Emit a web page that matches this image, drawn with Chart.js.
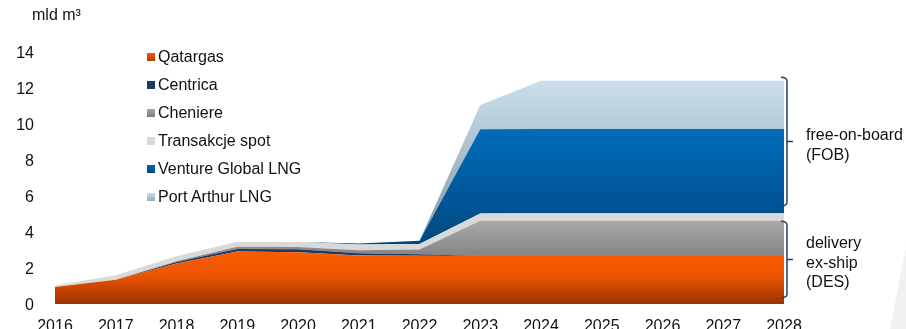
<!DOCTYPE html>
<html>
<head>
<meta charset="utf-8">
<script src="https://cdn.jsdelivr.net/npm/chart.js@4"></script>
<style>
  body { margin: 0; background: #fff; }
  #wrap { position: relative; width: 906px; height: 329px; overflow: hidden; font-family: "Liberation Sans", Arial, sans-serif; color: #111; }
  #chart { position: absolute; left: 0; top: 0; }
  .txt { position: absolute; font-size: 16px; line-height: 20px; white-space: nowrap; }
  #legend { position: absolute; left: 147px; top: 43px; font-size: 16px; line-height: 28px; }
  #legend div { position: relative; padding-left: 11px; white-space: nowrap; }
  #legend span { position: absolute; left: 0; top: 10px; width: 8px; height: 8px; }
  #deco { position: absolute; left: 890px; top: 246px; width: 16px; height: 83px; background: #f1f1f1; clip-path: polygon(100% 0, 100% 100%, 0 100%); }
</style>
</head>
<body>
<div id="wrap">
  <canvas id="chart" width="906" height="329"></canvas>
  <div class="txt" style="left:32px; top:5px;">mld m³</div>
  <div id="legend"></div>
  <div class="txt" style="left:806px; top:125px;">free-on-board<br>(FOB)</div>
  <div class="txt" style="left:806px; top:233px; line-height:19.5px;">delivery<br>ex-ship<br>(DES)</div>
  <div id="deco"></div>
</div>
<script>
var years = ["2016", "2017", "2018", "2019", "2020", "2021", "2022", "2023", "2024", "2025", "2026", "2027", "2028"];
var yTicks = [0, 2, 4, 6, 8, 10, 12, 14];

var qatargas = [0.95, 1.35, 2.25, 2.92, 2.88, 2.7, 2.68, 2.67, 2.67, 2.67, 2.67, 2.67, 2.67];
var centrica = [0, 0, 0.08, 0.14, 0.16, 0.12, 0.08, 0, 0, 0, 0, 0, 0];
var cheniere = [0, 0, 0.05, 0.12, 0.12, 0.16, 0.27, 1.95, 1.96, 1.96, 1.96, 1.96, 1.96];
var spot = [0.08, 0.25, 0.27, 0.28, 0.28, 0.32, 0.3, 0.41, 0.41, 0.41, 0.41, 0.41, 0.41];
var ventureGlobal = [0, 0, 0, 0, 0, 0.06, 0.19, 4.68, 4.68, 4.68, 4.68, 4.68, 4.68];
var portArthur = [0, 0, 0, 0, 0, 0, 0, 1.35, 2.68, 2.68, 2.68, 2.68, 2.68];

var seriesNames = ["Qatargas", "Centrica", "Cheniere", "Transakcje spot", "Venture Global LNG", "Port Arthur LNG"];

// vertical gradients: [top value, bottom value, colour stops]
var fills = [
  { top: 2.95, bottom: 0, stops: [[0, "#fa5c00"], [0.45, "#ee5500"], [1, "#9c3200"]], css: "linear-gradient(#f55a00, #b53a00)" },
  { solid: "#1f3864", css: "#1f3864" },
  { top: 4.63, bottom: 2.67, stops: [[0, "#a9a9a9"], [1, "#858585"]], css: "linear-gradient(#a6a6a6, #7a7a7a)" },
  { solid: "#d9d9d9", css: "#d9d9d9" },
  { top: 9.72, bottom: 3.3, stops: [[0, "#006cb9"], [1, "#00487f"]], css: "linear-gradient(#006ab6, #00487f)" },
  { top: 12.4, bottom: 3.5, stops: [[0, "#cadfed"], [1, "#8797a3"]], css: "linear-gradient(#c6dbe9, #98aab7)" }
];

// brackets on the right, in axis values
var brackets = [
  { from: 12.6, to: 5.45 },
  { from: 4.6, to: 0.35 }
];

function makeFill(i) {
  var f = fills[i];
  if (f.solid) return f.solid;
  return function (context) {
    var chart = context.chart;
    if (!chart.chartArea) return f.stops[0][1];
    var y = chart.scales.y;
    var g = chart.ctx.createLinearGradient(0, y.getPixelForValue(f.top), 0, y.getPixelForValue(f.bottom));
    for (var k = 0; k < f.stops.length; k++) g.addColorStop(f.stops[k][0], f.stops[k][1]);
    return g;
  };
}

var allData = [qatargas, centrica, cheniere, spot, ventureGlobal, portArthur];
var datasets = [];
for (var i = 0; i < allData.length; i++) {
  datasets.push({
    label: seriesNames[i],
    data: allData[i],
    backgroundColor: makeFill(i),
    borderWidth: 0,
    pointRadius: 0,
    tension: 0,
    fill: i === 0 ? "origin" : "-1"
  });
}

// legend
var legendHtml = "";
for (var j = 0; j < seriesNames.length; j++) {
  legendHtml += "<div><span style='background:" + fills[j].css + "'></span>" + seriesNames[j] + "</div>";
}
document.getElementById("legend").innerHTML = legendHtml;

var bracketPlugin = {
  id: "brackets",
  afterDraw: function (chart) {
    var ctx = chart.ctx;
    var y = chart.scales.y;
    var x = chart.chartArea.right + 3;
    ctx.save();
    ctx.strokeStyle = "#1f3f7a";
    ctx.lineWidth = 1.5;
    for (var b = 0; b < brackets.length; b++) {
      var y1 = y.getPixelForValue(brackets[b].from);
      var y2 = y.getPixelForValue(brackets[b].to);
      var ym = (y1 + y2) / 2;
      ctx.beginPath();
      ctx.moveTo(x - 6, y1);
      ctx.quadraticCurveTo(x, y1, x, y1 + 4);
      ctx.lineTo(x, y2 - 4);
      ctx.quadraticCurveTo(x, y2, x - 6, y2);
      ctx.moveTo(x, ym);
      ctx.lineTo(x + 6, ym);
      ctx.stroke();
    }
    ctx.restore();
  }
};

new Chart(document.getElementById("chart"), {
  type: "line",
  data: { labels: years, datasets: datasets },
  options: {
    responsive: false,
    animation: false,
    devicePixelRatio: 1,
    layout: { padding: { top: 52, right: 122, left: 0, bottom: 0 } },
    plugins: { legend: { display: false }, tooltip: { enabled: false } },
    scales: {
      x: {
        grid: { display: false },
        border: { display: false },
        ticks: { color: "#111", font: { family: "'Liberation Sans', Arial", size: 16 }, padding: 5, maxRotation: 0, autoSkip: false },
        afterFit: function (s) { s.height = 25; }
      },
      y: {
        stacked: true,
        min: 0,
        max: 14,
        grid: { display: false },
        border: { display: false },
        afterBuildTicks: function (s) { s.ticks = yTicks.map(function (v) { return { value: v }; }); },
        ticks: { color: "#111", font: { family: "'Liberation Sans', Arial", size: 16 }, padding: 13, labelOffset: 2 },
        afterFit: function (s) { s.width = 55; }
      }
    }
  },
  plugins: [bracketPlugin]
});
</script>
</body>
</html>
